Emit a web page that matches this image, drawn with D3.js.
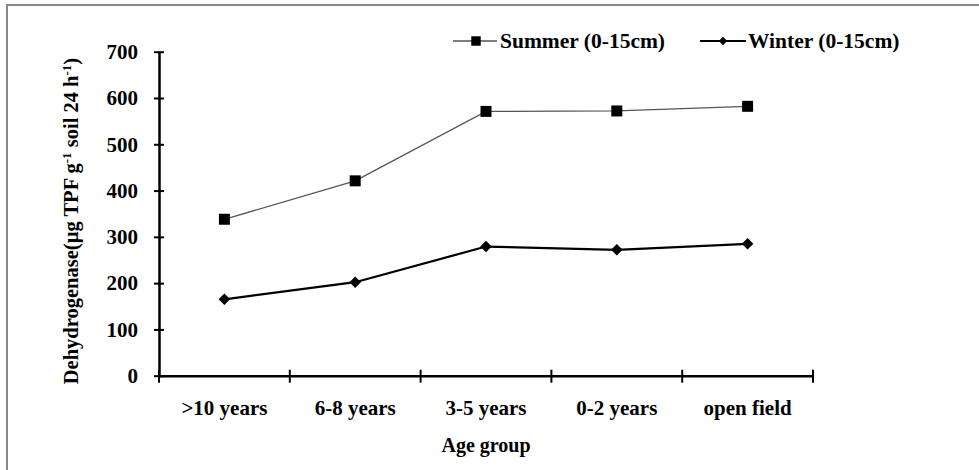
<!DOCTYPE html>
<html lang="en">
<head>
    <meta charset="UTF-8">
    <title>Dehydrogenase by age group</title>
    <script src="https://d3js.org/d3.v7.min.js"></script>
    <style>
        body { margin: 0; background: #fff; }
    </style>
</head>
<body>
    <svg width="979" height="470"></svg>
    <script>
        const categories = [">10 years", "6-8 years", "3-5 years", "0-2 years", "open field"];
        const summer = [338, 421, 571, 572, 582];
        const winter = [165, 202, 279, 272, 285];
        const yTicks = [0, 100, 200, 300, 400, 500, 600, 700];

        const svg = d3.select("svg");
        const serif = "'Liberation Serif', 'Times New Roman', serif";

        // outer frame (only top and left edges visible)
        svg.append("path")
           .attr("d", "M7,470 V5 H979")
           .attr("fill", "none")
           .attr("stroke", "#888")
           .attr("stroke-width", 2);

        const x = d3.scaleBand().domain(categories).range([159, 813]);
        const y = d3.scaleLinear().domain([0, 700]).range([375.7, 51.7]);

        function styleText(sel, size) {
            sel.style("font-family", serif)
               .style("font-weight", "bold")
               .style("font-size", size + "px")
               .attr("fill", "#000");
        }

        // y axis
        const yAxis = svg.append("g")
           .attr("transform", "translate(159,0)")
           .call(d3.axisLeft(y).tickValues(yTicks).tickSizeInner(5).tickSizeOuter(0).tickPadding(16));
        yAxis.selectAll("line").attr("x2", -5).attr("x1", 5).attr("stroke", "#000").attr("stroke-width", 2);
        yAxis.select(".domain").attr("stroke", "#000").attr("stroke-width", 2.5);
        styleText(yAxis.selectAll("text"), 21);

        // x axis
        const xAxis = svg.append("g")
           .attr("transform", "translate(0,375.7)")
           .call(d3.axisBottom(x).tickSize(0).tickPadding(24));
        xAxis.select(".domain").attr("stroke", "#000").attr("stroke-width", 2.5);
        styleText(xAxis.selectAll("text"), 21);
        const bounds = categories.map(c => x(c)).concat([x.range()[1]]);
        xAxis.selectAll(".bound")
           .data(bounds)
           .enter().append("line")
           .attr("x1", d => d).attr("x2", d => d)
           .attr("y1", -6).attr("y2", 7)
           .attr("stroke", "#000").attr("stroke-width", 2);

        // axis titles
        svg.append("text")
           .attr("x", (x.range()[0] + x.range()[1]) / 2)
           .attr("y", 452)
           .attr("text-anchor", "middle")
           .call(styleText, 20)
           .text("Age group");

        const yt = svg.append("text")
           .attr("transform", "translate(78,221) rotate(-90)")
           .attr("text-anchor", "middle")
           .call(styleText, 20.5);
        yt.append("tspan").text("Dehydrogenase(µg TPF g");
        yt.append("tspan").attr("baseline-shift", "super").style("font-size", "13px").text("-1");
        yt.append("tspan").text(" soil 24 h");
        yt.append("tspan").attr("baseline-shift", "super").style("font-size", "13px").text("-1");
        yt.append("tspan").text(")");

        const cx = c => x(c) + x.bandwidth() / 2;
        const line = d3.line().x((d, i) => cx(categories[i])).y(d => y(d));

        // summer series
        svg.append("path")
           .datum(summer)
           .attr("d", line)
           .attr("fill", "none")
           .attr("stroke", "#555")
           .attr("stroke-width", 1.3);
        svg.selectAll(".sq")
           .data(summer)
           .enter().append("path")
           .attr("class", "sq")
           .attr("d", d3.symbol(d3.symbolSquare, 121))
           .attr("transform", (d, i) => `translate(${cx(categories[i])},${y(d)})`)
           .attr("fill", "#000");

        // winter series
        svg.append("path")
           .datum(winter)
           .attr("d", line)
           .attr("fill", "none")
           .attr("stroke", "#000")
           .attr("stroke-width", 2.2);
        svg.selectAll(".dm")
           .data(winter)
           .enter().append("path")
           .attr("class", "dm")
           .attr("d", d3.symbol(d3.symbolSquare, 66))
           .attr("transform", (d, i) => `translate(${cx(categories[i])},${y(d)}) rotate(45)`)
           .attr("fill", "#000");

        // legend
        const lg = svg.append("g").attr("transform", "translate(0,41)");
        lg.append("line").attr("x1", 453).attr("x2", 497).attr("stroke", "#555").attr("stroke-width", 1.3);
        lg.append("path").attr("d", d3.symbol(d3.symbolSquare, 90)).attr("transform", "translate(476,0)");
        lg.append("text").attr("x", 500).attr("y", 7).call(styleText, 21.5).text("Summer (0-15cm)");
        lg.append("line").attr("x1", 700).attr("x2", 746).attr("stroke", "#000").attr("stroke-width", 2);
        lg.append("path").attr("d", d3.symbol(d3.symbolSquare, 36)).attr("transform", "translate(723,0) rotate(45)");
        lg.append("text").attr("x", 748).attr("y", 7).call(styleText, 21.5).text("Winter (0-15cm)");
    </script>
</body>
</html>
